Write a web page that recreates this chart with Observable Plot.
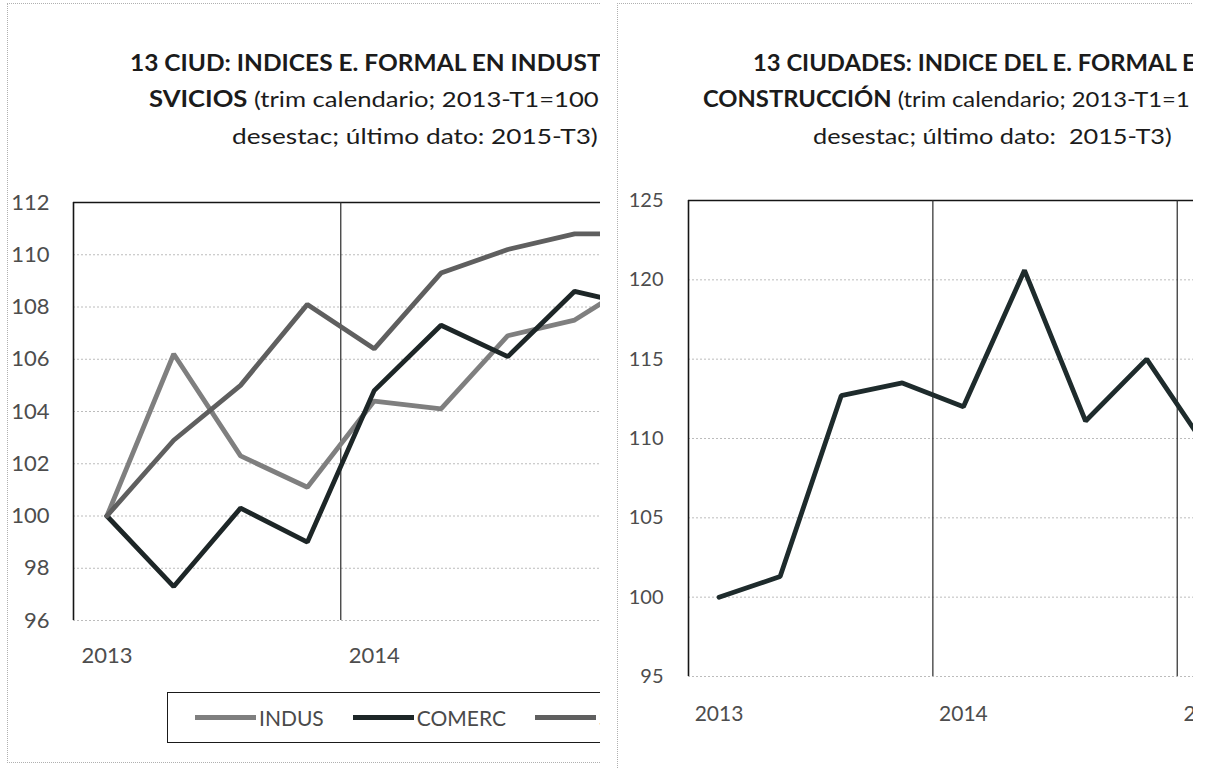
<!DOCTYPE html>
<html>
<head>
<meta charset="utf-8">
<script src="https://cdn.jsdelivr.net/npm/d3@7"></script>
<script src="https://cdn.jsdelivr.net/npm/@observablehq/plot@0.6"></script>
<style>
html,body{margin:0;padding:0;background:#fff;}
#page{position:relative;width:1207px;height:768px;overflow:hidden;background:#fff;font-family:Lato,"Open Sans",sans-serif;}
.panel{position:absolute;top:0;height:768px;overflow:hidden;}
.frame{position:absolute;border-left:1px dotted #b0b0b0;border-top:1px dotted #b0b0b0;}
.chart{position:absolute;left:0;}
.chart svg{max-width:none !important;}
.titles{position:absolute;left:0;top:0;overflow:hidden;}
.legclip{position:absolute;overflow:hidden;}
.legend{position:absolute;left:0;top:0;box-sizing:border-box;border:1.5px solid #1a1a1a;display:flex;align-items:center;white-space:nowrap;font-family:Lato,sans-serif;font-size:21px;color:#4a4a4a;}
.legend .item{display:flex;align-items:center;}
.legend .sw{display:inline-block;height:5px;width:61px;margin-right:3px;}
</style>
</head>
<body>
<div id="page"></div>
<script>
// ---- data ----
const quarters = ["2013-T1","2013-T2","2013-T3","2013-T4","2014-T1","2014-T2","2014-T3","2014-T4","2015-T1","2015-T2","2015-T3"];
const seriesNames = ["INDUS","COMERC","SERVICIOS"];
const indus      = [100, 106.2, 102.3, 101.1, 104.4, 104.1, 106.9, 107.5, 109.1];
const comerc     = [100,  97.3, 100.3,  99.0, 104.8, 107.3, 106.1, 108.6, 108.0];
const servicios  = [100, 102.9, 105.0, 108.1, 106.4, 109.3, 110.2, 110.8, 110.8];
const construccion = [100, 101.3, 112.7, 113.5, 112.0, 120.6, 111.1, 115.0, 109.3];
const leftYTicks  = [96, 98, 100, 102, 104, 106, 108, 110, 112];
const rightYTicks = [95, 100, 105, 110, 115, 120, 125];
const leftYearTicks  = ["2013", "2014"];
const rightYearTicks = ["2013", "2014", "2015"];
const seriesColors = ["#7f7f7f", "#1d2627", "#5f5f5f"];
const constColor = "#1e2b2c";

// title lines as they appear (the scan cuts them at the right edge)
const leftTitle = [
  [{t:"13 CIUD: INDICES E. FORMAL EN INDUST", b:true}],
  [{t:"SVICIOS", b:true},{t:" (trim calendario; 2013-T1=100", b:false}],
  [{t:"desestac; último dato: 2015-T3)", b:false}]
];
const rightTitle = [
  [{t:"13 CIUDADES: INDICE DEL E. FORMAL E", b:true}],
  [{t:"CONSTRUCCIÓN", b:true},{t:" (trim calendario; 2013-T1=1", b:false}],
  [{t:"desestac; último dato:  2015-T3)", b:false}]
];

// ---- helpers ----
const n = quarters.length;
const idx = d3.range(n);
const yearStartIdx = y => quarters.indexOf(y + "-T1");
const yearBounds = idx.filter(i => i > 0 && quarters[i].endsWith("T1")).map(i => i - 0.5);
const yearLabel = i => quarters[i].slice(0, 4);

const page = d3.select("#page");

// each title line is stretched horizontally to span the width it has in the scan
function titleBlock(panel, lines, xs, baselines, widths, panelWidth) {
  const svg = panel.append("svg").attr("class","titles").attr("width", panelWidth).attr("height", 170);
  lines.forEach((parts, k) => {
    const t = svg.append("text").attr("x", 0).attr("y", 0)
      .attr("font-family","Lato, sans-serif").attr("font-size", 22).attr("fill","#1b1b1b")
      .style("white-space","pre");
    parts.forEach(p => t.append("tspan").attr("font-weight", p.b ? 700 : 400).text(p.t));
    const w = t.node().getComputedTextLength();
    const f = w > 0 ? widths[k] / w : 1;
    t.attr("transform", `translate(${xs[k]},${baselines[k]}) scale(${f},1)`);
  });
}

// ---- left panel ----
const left = page.append("div").attr("class","panel").style("left","0px").style("width","600px");
left.append("div").attr("class","frame")
  .style("left","7px").style("top","3px").style("width","1000px").style("height","758px")
  .style("border-bottom","1px dotted #b0b0b0");
titleBlock(left, leftTitle, [130, 149, 232], [71, 107, 144], [472, 450, 366], 600);

const leftData = [indus, comerc, servicios].flatMap((arr, k) =>
  arr.map((v, i) => ({serie: seriesNames[k], i, v})));

const qwL = 66.8;
const leftPlot = Plot.plot({
  width: Math.round(73 + n * qwL), height: 490,
  marginLeft: 73, marginRight: 0, marginTop: 12, marginBottom: 60,
  style: {fontFamily: "Lato, sans-serif", fontSize: "22px", background: "transparent", color: "#4d4d4d", overflow: "visible", maxWidth: "none"},
  x: {domain: [-0.5, n - 0.5]},
  y: {domain: [leftYTicks[0], leftYTicks[leftYTicks.length - 1]]},
  color: {domain: seriesNames, range: seriesColors},
  marks: [
    Plot.gridY(leftYTicks, {stroke: "#bcbcbc", strokeOpacity: 1, strokeDasharray: "2,2"}),
    Plot.ruleY([leftYTicks[leftYTicks.length - 1]], {stroke: "#151515", strokeWidth: 1.6}),
    Plot.ruleX([-0.5], {stroke: "#151515", strokeWidth: 1.6}),
    Plot.ruleX(yearBounds, {stroke: "#2a2a2a", strokeWidth: 1.2}),
    Plot.axisY(leftYTicks, {tickSize: 0, tickPadding: 24, fontSize: 22, label: null, fill: "#4d4d4d"}),
    Plot.axisX(leftYearTicks.map(yearStartIdx), {tickSize: 0, tickPadding: 27, fontSize: 22, label: null, tickFormat: yearLabel, fill: "#4d4d4d"}),
    Plot.line(leftData, {x: "i", y: "v", z: "serie", stroke: "serie", strokeWidth: 4.8, strokeLinejoin: "miter"})
  ]
});
left.append("div").attr("class","chart").style("top","190px").node().appendChild(leftPlot);

// legend (cut by the panel edge, as in the scan)
const legclip = left.append("div").attr("class","legclip")
  .style("left","167px").style("top","692px").style("width","433px").style("height","51px");
const legend = legclip.append("div").attr("class","legend")
  .style("width","600px").style("height","51px")
  .style("padding-left","27px").style("gap","29px");
seriesNames.forEach((s, k) => {
  const it = legend.append("div").attr("class","item");
  it.append("span").attr("class","sw").style("background", seriesColors[k]);
  it.append("span").text(s);
});

// ---- right panel ----
const right = page.append("div").attr("class","panel").style("left","605px").style("width","588px").style("background","#fff");
right.append("div").attr("class","frame")
  .style("left","12px").style("top","3px").style("width","1000px").style("height","900px");
titleBlock(right, rightTitle, [753 - 605, 703 - 605, 813 - 605], [71, 107, 144], [443, 487, 359], 588);

const rightData = construccion.map((v, i) => ({i, v}));
const qwR = 61.05;
const rightPlot = Plot.plot({
  width: Math.round(83 + n * qwR), height: 548,
  marginLeft: 83, marginRight: 0, marginTop: 12, marginBottom: 60,
  style: {fontFamily: "Lato, sans-serif", fontSize: "20px", background: "transparent", color: "#4d4d4d", overflow: "visible", maxWidth: "none"},
  x: {domain: [-0.5, n - 0.5]},
  y: {domain: [rightYTicks[0], rightYTicks[rightYTicks.length - 1]]},
  marks: [
    Plot.gridY(rightYTicks, {stroke: "#bcbcbc", strokeOpacity: 1, strokeDasharray: "2,2"}),
    Plot.ruleY([rightYTicks[rightYTicks.length - 1]], {stroke: "#151515", strokeWidth: 1.6}),
    Plot.ruleX([-0.5], {stroke: "#151515", strokeWidth: 1.6}),
    Plot.ruleX(yearBounds, {stroke: "#2a2a2a", strokeWidth: 1.2}),
    Plot.axisY(rightYTicks, {tickSize: 0, tickPadding: 25, fontSize: 20, label: null, fill: "#4d4d4d"}),
    Plot.axisX(rightYearTicks.map(yearStartIdx), {tickSize: 0, tickPadding: 30, fontSize: 21, label: null, tickFormat: yearLabel, fill: "#4d4d4d"}),
    Plot.line(rightData, {x: "i", y: "v", stroke: constColor, strokeWidth: 4.8, strokeLinejoin: "miter"})
  ]
});
right.append("div").attr("class","chart").style("top","188px").node().appendChild(rightPlot);
</script>
</body>
</html>
